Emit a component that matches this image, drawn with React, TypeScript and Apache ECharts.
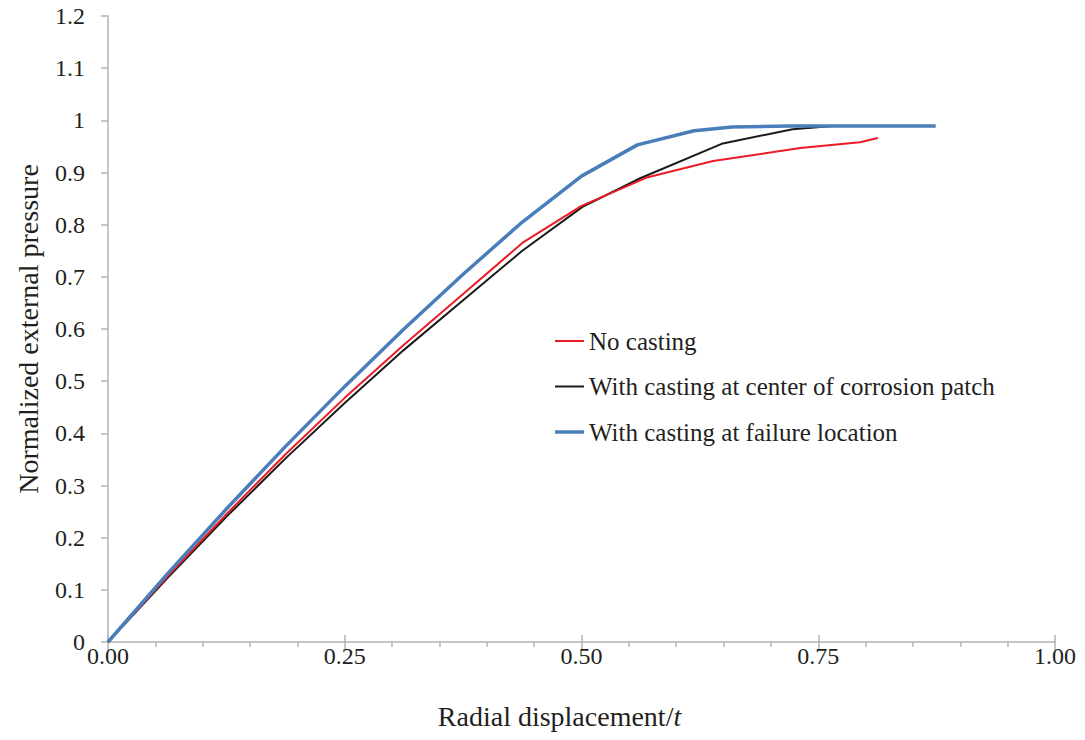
import React, { useEffect, useRef } from "react";
import * as echarts from "echarts";

// Normalized radial displacement (x) vs normalized external pressure (y)
const noCasting: [number, number][] = [
  [0, 0], [0.0625, 0.125], [0.125, 0.245], [0.1875, 0.36], [0.25, 0.468],
  [0.3125, 0.57], [0.375, 0.667], [0.4375, 0.765], [0.5, 0.836], [0.57, 0.891],
  [0.639, 0.922], [0.731, 0.947], [0.794, 0.958], [0.813, 0.966],
];
const castingCenter: [number, number][] = [
  [0, 0], [0.0625, 0.122], [0.125, 0.24], [0.1875, 0.352], [0.25, 0.458],
  [0.3125, 0.56], [0.375, 0.655], [0.4375, 0.75], [0.501, 0.834], [0.562, 0.889],
  [0.648, 0.955], [0.723, 0.983], [0.765, 0.989],
];
const castingFailure: [number, number][] = [
  [0, 0], [0.0625, 0.13], [0.125, 0.255], [0.1875, 0.375], [0.25, 0.49],
  [0.3125, 0.6], [0.375, 0.705], [0.4375, 0.805], [0.5, 0.893], [0.559, 0.953],
  [0.619, 0.98], [0.659, 0.987], [0.72, 0.989], [0.874, 0.989],
];
const seriesNames = [
  "No casting",
  "With casting at center of corrosion patch",
  "With casting at failure location",
];
const seriesColors = ["#ec1c24", "#1a1a1a", "#4a7ebb"];
const seriesWidths = [2, 2, 3.5];

const FONT = '"Liberation Serif", "Times New Roman", serif';
const TEXT = "#231f20";
const AXIS = "#b3b3b3";

export default function App() {
  const ref = useRef<HTMLDivElement>(null);

  useEffect(() => {
    if (!ref.current) return;
    const chart = echarts.init(ref.current, undefined, { renderer: "svg" });

    // legend drawn as line swatches + labels inside the plot
    const legendGraphics = seriesNames.map((name, i) => ({
      type: "group",
      x: 555,
      y: 341 + i * 45.5,
      children: [
        {
          type: "line",
          shape: { x1: 0, y1: 0, x2: 29, y2: 0 },
          style: { stroke: seriesColors[i], lineWidth: seriesWidths[i] },
        },
        {
          type: "text",
          x: 34,
          y: 0,
          style: {
            text: name,
            fontFamily: FONT,
            fontSize: 25,
            fill: TEXT,
            verticalAlign: "middle",
          },
        },
      ],
    }));

    chart.setOption({
      animation: false,
      backgroundColor: "#ffffff",
      textStyle: { fontFamily: FONT, color: TEXT },
      grid: { left: 108, right: 30, top: 16, bottom: 98, containLabel: false },
      graphic: legendGraphics,
      xAxis: [
        {
          type: "value",
          min: 0,
          max: 1,
          interval: 0.25,
          axisLine: { show: true, lineStyle: { color: AXIS, width: 1.5 } },
          axisTick: { show: true, length: 8, lineStyle: { color: AXIS, width: 1.5 } },
          minorTick: { show: true, splitNumber: 5, length: 5, lineStyle: { color: AXIS, width: 1.5 } },
          splitLine: { show: false },
          axisLabel: {
            fontFamily: FONT,
            fontSize: 24,
            color: TEXT,
            margin: 2,
            formatter: (v: number) => v.toFixed(2),
          },
          name: "Radial displacement/{i|t}",
          nameLocation: "middle",
          nameGap: 60,
          nameTextStyle: {
            fontFamily: FONT,
            fontSize: 28,
            color: TEXT,
            padding: [0, 44, 0, 0],
            rich: { i: { fontFamily: FONT, fontSize: 28, fontStyle: "italic", color: TEXT } },
          },
        },
        {
          // inner halves of the major ticks
          type: "value",
          position: "bottom",
          min: 0,
          max: 1,
          interval: 0.25,
          axisLine: { show: false },
          axisTick: { show: true, inside: true, length: 7, lineStyle: { color: AXIS, width: 1.5 } },
          axisLabel: { show: false },
          splitLine: { show: false },
        },
      ],
      yAxis: {
        type: "value",
        min: 0,
        max: 1.2,
        interval: 0.1,
        axisLine: { show: true, lineStyle: { color: AXIS, width: 1.5 } },
        axisTick: { show: true, length: 7, lineStyle: { color: AXIS, width: 1.5 } },
        splitLine: { show: false },
        axisLabel: {
          fontFamily: FONT,
          fontSize: 24,
          color: TEXT,
          margin: 23,
          formatter: (v: number) => String(Math.round(v * 10) / 10),
        },
        name: "Normalized external pressure",
        nameLocation: "middle",
        nameGap: 66,
        nameTextStyle: { fontFamily: FONT, fontSize: 28, color: TEXT },
      },
      series: [
        {
          name: seriesNames[0],
          type: "line",
          data: noCasting,
          symbol: "none",
          lineStyle: { color: seriesColors[0], width: seriesWidths[0] },
          z: 3,
        },
        {
          name: seriesNames[1],
          type: "line",
          data: castingCenter,
          symbol: "none",
          lineStyle: { color: seriesColors[1], width: seriesWidths[1] },
          z: 2,
        },
        {
          name: seriesNames[2],
          type: "line",
          data: castingFailure,
          symbol: "none",
          lineStyle: { color: seriesColors[2], width: seriesWidths[2] },
          z: 4,
        },
      ],
    });
    return () => chart.dispose();
  }, []);

  return <div ref={ref} style={{ width: 1085, height: 740, position: "absolute", left: 0, top: 0 }} />;
}
